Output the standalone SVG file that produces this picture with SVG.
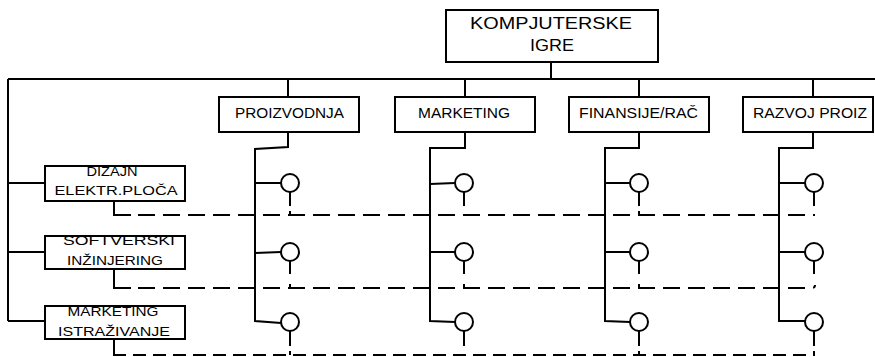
<svg xmlns="http://www.w3.org/2000/svg" width="875" height="357" viewBox="0 0 875 357">
<style>
.box{fill:#fff;stroke:#000;stroke-width:2}
.ln{fill:none;stroke:#000;stroke-width:2}
.dash1{fill:none;stroke:#000;stroke-width:2;stroke-dasharray:17 8}
.dash3{fill:none;stroke:#000;stroke-width:2;stroke-dasharray:13 7}
.cir{fill:#fff;stroke:#000;stroke-width:2}
text{font-family:"Liberation Sans",Arial,sans-serif;fill:#000;text-anchor:middle}
.t1{font-size:16px}
.t2{font-size:14px}
.t3{font-size:13px}
</style>
<g id="connectors">
<path class="ln" d="M551,62 V79 M8,79 H875 M8,79 V321 M8,183 H45 M8,252 H45 M8,321 H45"/>
<path class="ln" d="M288,79 V97 M465,79 V97 M639,79 V97 M813,79 V97"/>
<path class="ln" d="M288,132 V147 L255,149 V321 L281,323 M255,183 H281 M255,253 L281,252"/>
<path class="ln" d="M465,132 V148 H430 V321 L455,322 M430,184 L455,183 M430,252 H455"/>
<path class="ln" d="M639,132 V148 H605 V321 L630,322 M605,183 H630 M605,252 H630"/>
<path class="ln" d="M813,132 V148 H779 V321 H805 M779,183 H805 M779,252 H805"/>
<path class="ln" d="M290,192 V206 M290,211 V215 M464,192 V206 M639,192 V206 M639,211 V215 M814,192 V206 M290,261 V274 M290,284 V288 M464,261 V274 M464,284 V288 M639,261 V274 M639,284 V288 M814,261 V274 M290,331 V346 M290,351 V355 M464,331 V346 M639,331 V346 M639,351 V355 M814,331 V346 M814,351 V355"/>
<path class="ln" d="M114,201 V215 H131 M114,269 V288 H131 M114,339 V355 H126"/>
<path class="dash1" d="M138,215 H815"/>
<path class="dash1" d="M138,288 H812 Q815,288 815,285"/>
<path class="dash3" d="M133,355 H815"/>
</g>
<g id="circles">
<circle class="cir" cx="290" cy="183" r="9"/><circle class="cir" cx="290" cy="252" r="9"/><circle class="cir" cx="290" cy="322" r="9"/>
<circle class="cir" cx="464" cy="183" r="9"/><circle class="cir" cx="464" cy="252" r="9"/><circle class="cir" cx="464" cy="322" r="9"/>
<circle class="cir" cx="639" cy="183" r="9"/><circle class="cir" cx="639" cy="252" r="9"/><circle class="cir" cx="639" cy="322" r="9"/>
<circle class="cir" cx="814" cy="183" r="9"/><circle class="cir" cx="814" cy="252" r="9"/><circle class="cir" cx="814" cy="322" r="9"/>
</g>
<g id="kompjuterske-igre">
<rect class="box" x="446" y="10" width="212" height="52"/>
<text class="t1" x="551" y="29" textLength="162" lengthAdjust="spacingAndGlyphs">KOMPJUTERSKE</text>
<text class="t1" x="552" y="51" textLength="44" lengthAdjust="spacingAndGlyphs">IGRE</text>
</g>
<g id="proizvodnja">
<rect class="box" x="219" y="97" width="140" height="35"/>
<text class="t2" x="289.5" y="118" textLength="109" lengthAdjust="spacingAndGlyphs">PROIZVODNJA</text>
</g>
<g id="marketing">
<rect class="box" x="395" y="97" width="140" height="35"/>
<text class="t2" x="464" y="118" textLength="92" lengthAdjust="spacingAndGlyphs">MARKETING</text>
</g>
<g id="finansije">
<rect class="box" x="569" y="97" width="140" height="35"/>
<text class="t2" x="638.5" y="118" textLength="119" lengthAdjust="spacingAndGlyphs">FINANSIJE/RAČ</text>
</g>
<g id="razvoj">
<rect class="box" x="743" y="97" width="130" height="35"/>
<text class="t2" x="810" y="118" textLength="114" lengthAdjust="spacingAndGlyphs">RAZVOJ  PROIZ</text>
</g>
<g id="dizajn">
<rect class="box" x="45" y="166" width="140" height="35"/>
<text class="t3" x="112" y="176" textLength="51" lengthAdjust="spacingAndGlyphs">DIZAJN</text>
<text class="t3" x="116" y="195" textLength="123" lengthAdjust="spacingAndGlyphs">ELEKTR.PLOČA</text>
</g>
<g id="softverski">
<rect class="box" x="45" y="236" width="140" height="33"/>
<text class="t3" x="119" y="245" textLength="112" lengthAdjust="spacingAndGlyphs">SOFTVERSKI</text>
<text class="t3" x="115" y="265" textLength="96" lengthAdjust="spacingAndGlyphs">INŽINJERING</text>
</g>
<g id="istrazivanje">
<rect class="box" x="45" y="306" width="140" height="33"/>
<text class="t3" x="113" y="316" textLength="91" lengthAdjust="spacingAndGlyphs">MARKETING</text>
<text class="t3" x="114" y="336" textLength="112" lengthAdjust="spacingAndGlyphs">ISTRAŽIVANJE</text>
</g>
</svg>
